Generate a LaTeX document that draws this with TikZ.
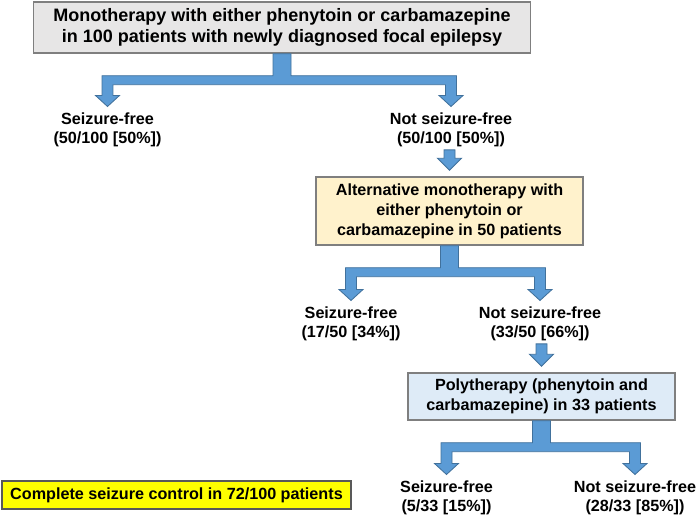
\documentclass[tikz,border=0pt]{standalone}
\usepackage{fontspec}
\setmainfont{Liberation Sans}
\usepackage{tikz}
\usetikzlibrary{calc}
\definecolor{arrowblue}{HTML}{5B9BD5}
\definecolor{arrowedge}{HTML}{41719C}
\definecolor{boxgrey}{HTML}{E7E6E6}
\definecolor{boxcream}{HTML}{FFF2CC}
\definecolor{boxblue}{HTML}{DEEBF7}
\definecolor{boxedge}{HTML}{7F7F7F}
\definecolor{noteyellow}{HTML}{FFFF00}
\tikzset{
  therapybox/.style={rectangle, draw=boxedge, line width=1pt, align=center, inner sep=0pt, font=\fontsize{11.5}{14.2}\selectfont\bfseries},
  outcome/.style={align=center, inner sep=0pt, anchor=north, font=\fontsize{11.5}{13.3}\selectfont\bfseries},
  notebox/.style={rectangle, draw=black!65, line width=1pt, fill=noteyellow, inner sep=0pt, font=\fontsize{11.5}{13.3}\selectfont\bfseries},
  blockarr/.style={fill=arrowblue, draw=arrowedge, line width=0.6pt, line join=miter},
}
% split arrow: parent box -> two outcomes
\newcommand{\forkarrow}[3]{%
  \draw[blockarr] let \p0=(#1.south), \p1=(#2.north), \p2=(#3.north) in
    (\x0-6.4pt,\y0) -- (\x0-6.4pt,\y0-15.65pt) -- (\x1-3.91pt,\y0-15.65pt)
    -- (\x1-3.91pt,\y1+12.1pt) -- (\x1-8.54pt,\y1+12.1pt) -- (\x1,\y1+4.27pt)
    -- (\x1+8.54pt,\y1+12.1pt) -- (\x1+3.91pt,\y1+12.1pt) -- (\x1+3.91pt,\y0-22.05pt)
    -- (\x2-3.91pt,\y0-22.05pt) -- (\x2-3.91pt,\y2+12.1pt) -- (\x2-8.54pt,\y2+12.1pt)
    -- (\x2,\y2+4.27pt) -- (\x2+8.54pt,\y2+12.1pt) -- (\x2+3.91pt,\y2+12.1pt)
    -- (\x2+3.91pt,\y0-15.65pt) -- (\x0+6.4pt,\y0-15.65pt) -- (\x0+6.4pt,\y0) -- cycle;
}
% straight arrow: outcome -> next box
\newcommand{\droparrow}[2]{%
  \draw[blockarr] let \p0=(#1.south), \p1=(#2.north) in
    (\x1-3.91pt,\y0-2.13pt) -- (\x1-3.91pt,\y1+12.8pt) -- (\x1-8.54pt,\y1+12.8pt)
    -- (\x1,\y1+4.27pt) -- (\x1+8.54pt,\y1+12.8pt) -- (\x1+3.91pt,\y1+12.8pt)
    -- (\x1+3.91pt,\y0-2.13pt) -- cycle;
}

\begin{document}
\begin{tikzpicture}[x=0.025cm, y=-0.025cm]
  \useasboundingbox (0,0) rectangle (699,518);

  % First monotherapy
  \node[therapybox, fill=boxgrey, minimum width=12.425cm, minimum height=1.275cm, font=\fontsize{12.8}{14.9}\selectfont\bfseries] (mono) at (282,27.5) {Monotherapy with either phenytoin or carbamazepine\\in 100 patients with newly diagnosed focal epilepsy};
  \node[outcome] (sfA) at (107.5,112.5) {Seizure-free\\(50/100 [50\%])};
  \node[outcome] (nsfA) at (451,112.5) {Not seizure-free\\(50/100 [50\%])};

  % Alternative monotherapy
  \node[therapybox, fill=boxcream, minimum width=6.675cm, minimum height=1.7cm] (alt) at (449.5,211) {Alternative monotherapy with\\either phenytoin or\\carbamazepine in 50 patients};
  \node[outcome] (sfB) at (351,306.5) {Seizure-free\\(17/50 [34\%])};
  \node[outcome] (nsfB) at (540,306.5) {Not seizure-free\\(33/50 [66\%])};

  % Polytherapy
  \node[therapybox, fill=boxblue, minimum width=6.675cm, minimum height=1.175cm] (poly) at (541.5,396.5) {Polytherapy (phenytoin and\\carbamazepine) in 33 patients};
  \node[outcome] (sfC) at (446.5,480.5) {Seizure-free\\(5/33 [15\%])};
  \node[outcome] (nsfC) at (635,480.5) {Not seizure-free\\(28/33 [85\%])};

  \node[notebox, minimum width=8.725cm, minimum height=0.7cm] (total) at (176.5,495) {Complete seizure control in 72/100 patients};

  \forkarrow{mono}{sfA}{nsfA}
  \droparrow{nsfA}{alt}
  \forkarrow{alt}{sfB}{nsfB}
  \droparrow{nsfB}{poly}
  \forkarrow{poly}{sfC}{nsfC}
\end{tikzpicture}
\end{document}
